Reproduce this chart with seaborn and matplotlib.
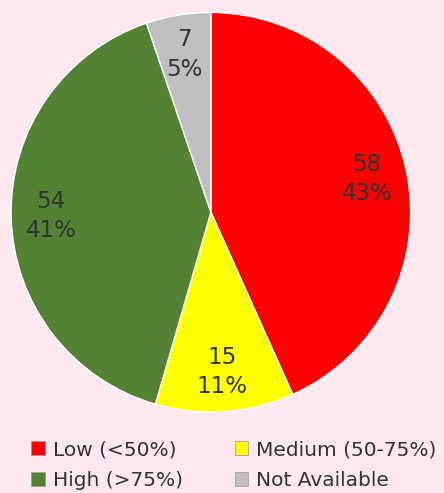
import matplotlib
matplotlib.use("Agg")
import matplotlib.pyplot as plt
import seaborn as sns
from matplotlib.patches import Patch

categories = ["Low (<50%)", "Medium (50-75%)", "High (>75%)", "Not Available"]
counts = [58, 15, 54, 7]
pct_labels = ["43%", "11%", "41%", "5%"]
colors = ["#FF0000", "#FFFF00", "#548235", "#BFBFBF"]

bg = "#FDE9EF"
sns.set_theme(style="white", rc={"figure.facecolor": bg, "axes.facecolor": bg})
plt.rcParams["font.family"] = ["DejaVu Sans"]

fig = plt.figure(figsize=(4.44, 4.93), dpi=100)
ax = fig.add_axes([0.025, 0.164, 0.9, 0.811])

labels = [f"{c}\n{p}" for c, p in zip(counts, pct_labels)]
wedges, texts = ax.pie(counts, colors=colors, startangle=90, counterclock=False,
                       labels=labels, labeldistance=0.8,
                       wedgeprops=dict(linewidth=1, edgecolor="white"),
                       textprops=dict(fontsize=16.5, color="#333333", ha="center",
                                      va="center", linespacing=1.35))
ax.set_xlim(-1.0, 1.0)
ax.set_ylim(-1.0, 1.0)
ax.set_aspect("equal")
ax.axis("off")

handles = [Patch(facecolor=c, edgecolor="#999999", linewidth=0.5) for c in colors]
order = [0, 2, 1, 3]
fig.legend([handles[i] for i in order], [categories[i] for i in order],
           ncol=2, loc="lower left", bbox_to_anchor=(0.03, -0.031),
           frameon=False, fontsize=14.5, handlelength=0.65, handleheight=0.65,
           handletextpad=0.4, columnspacing=2.6, labelspacing=0.6,
           labelcolor="#333333")

fig.savefig("out.png", dpi=100, facecolor=bg)
